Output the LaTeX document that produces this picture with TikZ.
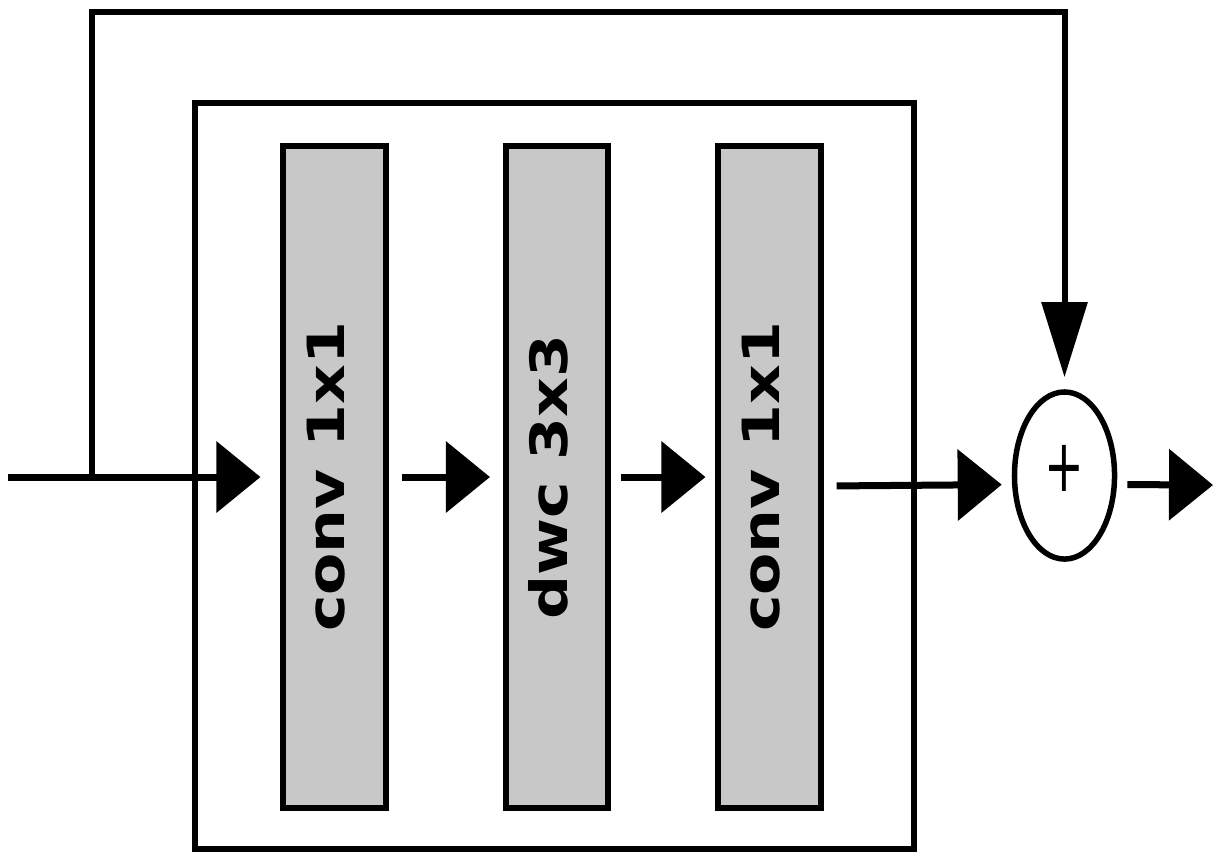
\documentclass[tikz,border=0pt]{standalone}
\usepackage{fontspec}
\setmainfont{DejaVu Sans}
\usepackage{graphicx}
\usetikzlibrary{arrows.meta,shapes.geometric}
\definecolor{blockgray}{HTML}{C8C8C8}

\begin{document}
\begin{tikzpicture}[x=0.01cm,y=-0.01cm,
  >={Triangle[length=0.44cm,width=0.70cm]},
  layer/.style={draw,line width=0.06cm,fill=blockgray,rotate=90,inner sep=0pt,
    minimum width=6.62cm,minimum height=1.02cm,text height=0.2cm,text depth=0pt,
    font=\fontsize{14.6pt}{17pt}\selectfont\bfseries},
  flow/.style={->,line width=0.07cm},
  skip/.style={-{Triangle[length=0.75cm,width=0.45cm]},line width=0.06cm,shorten >=0.12cm}]
  \useasboundingbox (0,0) rectangle (1213,853);
  % block frame
  \node[draw,line width=0.06cm,minimum width=7.18cm,minimum height=7.45cm] (frame) at (554.5,476) {};
  \node[layer] (c1) at (334.5,477) {\scalebox{1.2}[1]{conv 1x1}};
  \node[layer] (dw) at (557,477) {\scalebox{1.2}[1]{dwc 3x3}};
  \node[layer] (c2) at (769.5,477) {\scalebox{1.2}[1]{conv 1x1}};
  \node[draw,ellipse,line width=0.055cm,minimum width=1.0cm,minimum height=1.67cm,inner sep=0pt,
    text height=0.48cm,text depth=0.16cm,
    font=\fontsize{13.5pt}{15pt}\selectfont] (sum) at (1064.5,475.5) {\scalebox{1}[1.55]{+}};
  \coordinate (in) at (8,477);
  \coordinate (split) at (91.5,477);
  \coordinate (skiptop) at (1064.5,11.5);
  \coordinate (out) at (1213,485);
  % main path
  \draw[flow,shorten >=0.2cm] (in) -- (c1);
  \draw[flow,shorten <=0.13cm,shorten >=0.13cm] (c1) -- (dw);
  \draw[flow,shorten <=0.1cm,shorten >=0.1cm] (dw) -- (c2);
  \draw[flow,shorten <=0.13cm,shorten >=0.1cm] ([yshift=-0.09cm]c2.south) -- ([yshift=-0.09cm]sum.west);
  \draw[flow,shorten <=0.1cm] ([yshift=-0.09cm]sum.east) -- (out);
  % shortcut
  \draw[skip] (split) |- (skiptop) -- (sum);
\end{tikzpicture}
\end{document}
